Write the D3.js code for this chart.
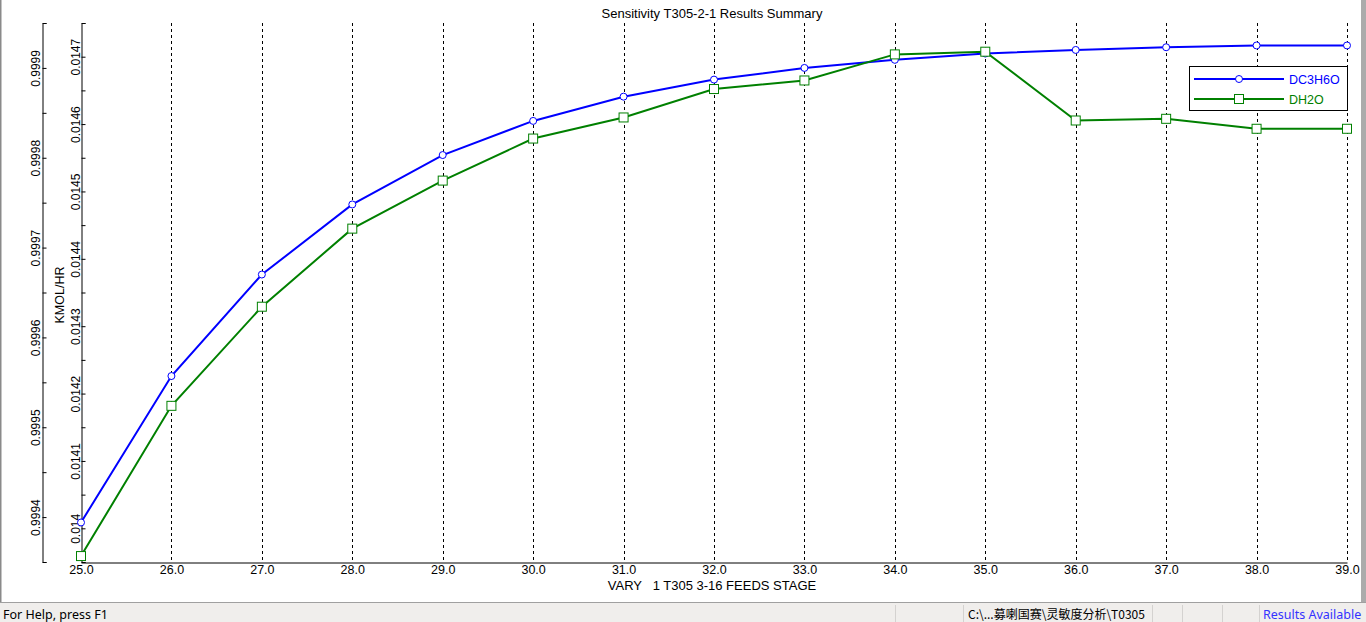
<!DOCTYPE html>
<html>
<head>
<meta charset="utf-8">
<script src="https://cdn.jsdelivr.net/npm/d3@7/dist/d3.min.js"></script>
<style>
    html, body { margin: 0; padding: 0; background: #fff; overflow: hidden; }
    svg { display: block; font-family: "Liberation Sans", Arial, sans-serif; }
</style>
</head>
<body>
<svg id="chart" width="1366" height="622"></svg>
<script>
// 横轴：进料板位置
const stages = [25, 26, 27, 28, 29, 30, 31, 32, 33, 34, 35, 36, 37, 38, 39];
// DC3H6O 结果（外侧左轴）
const dc3h6o = [0.999394, 0.999557, 0.999670, 0.999748, 0.999803, 0.999841, 0.999868,
    0.999887, 0.999900, 0.999909, 0.999916, 0.999920, 0.999923, 0.999925, 0.999925];
// DH2O 结果（内侧左轴）
const dh2o = [0.0139588, 0.0141818, 0.0143289, 0.0144448, 0.0145161, 0.0145785, 0.0146098,
    0.0146520, 0.0146647, 0.0147034, 0.0147074, 0.0146053, 0.0146078, 0.0145930, 0.0145930];
// 刻度标签
const outerTickLabels = ['0.9994', '0.9995', '0.9996', '0.9997', '0.9998', '0.9999'];
const innerTickLabels = ['0.014', '0.0141', '0.0142', '0.0143', '0.0144', '0.0145', '0.0146', '0.0147'];
// 图例名称
const seriesNames = ['DC3H6O', 'DH2O'];

const svg = d3.select('#chart');
const plot = { left: 81, right: 1347, top: 23, bottom: 562 };
const blue = '#0000ff', green = '#008000';

// 比例尺
const x = d3.scaleLinear().domain([25, 39]).range([plot.left, plot.right]);
const yOuter = d3.scaleLinear().domain([0.99935, 0.99995]).range([plot.bottom, plot.top]);
const yInner = d3.scaleLinear().domain([0.01395, 0.01475]).range([plot.bottom, plot.top]);

// 窗口边框
svg.append('rect').attr('x', 0).attr('y', 0).attr('width', 1.5).attr('height', 603).attr('fill', '#8a8a8a');
svg.append('rect').attr('x', 1361).attr('y', 0).attr('width', 5).attr('height', 603).attr('fill', '#ababab');

// 竖直虚线网格
svg.append('g').selectAll('line')
    .data(stages.slice(1))
    .join('line')
    .attr('x1', d => Math.round(x(d)) + 0.5)
    .attr('x2', d => Math.round(x(d)) + 0.5)
    .attr('y1', plot.top)
    .attr('y2', plot.bottom)
    .attr('stroke', '#000')
    .attr('stroke-width', 1)
    .attr('stroke-dasharray', '3,3');

// 左侧纵轴（刻度朝内，标签旋转）
function drawYAxis(scale, labels, xPos, labelOffset) {
    let values = labels.map(Number);
    let step = values[1] - values[0];
    // 半格次刻度
    let minor = values.map(v => v - step / 2).concat([values[values.length - 1] + step / 2]);
    let g = svg.append('g').attr('transform', `translate(${xPos + 0.5},0)`);
    g.call(d3.axisLeft(scale).tickValues(minor).tickSizeInner(-4).tickSizeOuter(-4).tickFormat(''));
    let gm = svg.append('g').attr('transform', `translate(${xPos + 0.5},0)`);
    gm.call(d3.axisLeft(scale).tickValues(values).tickSizeInner(-4).tickSizeOuter(-4)
        .tickFormat((d, i) => labels[i]));
    gm.select('.domain').remove();
    [g, gm].forEach(s => s.selectAll('line, path').attr('stroke', '#000'));
    gm.selectAll('text')
        .attr('x', 0)
        .attr('dy', null)
        .attr('y', labelOffset)
        .attr('transform', 'rotate(-90)')
        .attr('text-anchor', 'middle')
        .attr('fill', '#000')
        .style('font-size', '12px')
        .style('font-family', '"Liberation Sans", Arial, sans-serif');
}
drawYAxis(yOuter, outerTickLabels, 42, -3);
drawYAxis(yInner, innerTickLabels, 81, -2);

// 横轴
let gx = svg.append('g').attr('transform', `translate(0,${plot.bottom + 0.5})`);
gx.call(d3.axisBottom(x).tickValues(stages).tickSize(0).tickPadding(3).tickFormat(d3.format('.1f')));
gx.select('.domain').attr('stroke', '#000');
gx.selectAll('text')
    .attr('fill', '#000')
    .style('font-size', '12.5px')
    .style('font-family', '"Liberation Sans", Arial, sans-serif');

// 标题与轴标题
svg.append('text').attr('x', 712).attr('y', 18).attr('text-anchor', 'middle')
    .style('font-size', '13px').text('Sensitivity T305-2-1 Results Summary');
svg.append('text').attr('x', 712).attr('y', 590).attr('text-anchor', 'middle')
    .style('font-size', '13px').style('white-space', 'pre').text('VARY   1 T305 3-16 FEEDS STAGE');
svg.append('text').attr('transform', 'translate(64,295) rotate(-90)').attr('text-anchor', 'middle')
    .style('font-size', '12.5px').text('KMOL/HR');

// 折线
const series = [
    { name: seriesNames[0], values: dc3h6o, y: yOuter, color: blue, marker: 'circle' },
    { name: seriesNames[1], values: dh2o, y: yInner, color: green, marker: 'square' }
];

function drawMarker(g, type, cx, cy, color) {
    if (type === 'circle') {
        g.append('circle').attr('cx', cx).attr('cy', cy).attr('r', 3.5)
            .attr('fill', '#fff').attr('stroke', color).attr('stroke-width', 1);
    } else {
        g.append('rect').attr('x', cx - 4.5).attr('y', cy - 4.5).attr('width', 9).attr('height', 9)
            .attr('fill', '#fff').attr('stroke', color).attr('stroke-width', 1);
    }
}

series.forEach(s => {
    let line = d3.line().x(d => x(d[0])).y(d => s.y(d[1]));
    let pts = stages.map((st, i) => [st, s.values[i]]);
    svg.append('path').datum(pts)
        .attr('d', line)
        .attr('fill', 'none')
        .attr('stroke', s.color)
        .attr('stroke-width', 2);
    let gm = svg.append('g');
    pts.forEach(p => drawMarker(gm, s.marker, x(p[0]), s.y(p[1]), s.color));
});

// 图例
let lg = svg.append('g');
lg.append('rect').attr('x', 1189.5).attr('y', 66.5).attr('width', 158).attr('height', 44)
    .attr('fill', '#fff').attr('stroke', '#000').attr('stroke-width', 1);
series.forEach((s, i) => {
    let cy = 79 + i * 20;
    lg.append('line').attr('x1', 1194).attr('x2', 1284).attr('y1', cy).attr('y2', cy)
        .attr('stroke', s.color).attr('stroke-width', 2);
    drawMarker(lg, s.marker, 1239, cy, s.color);
    lg.append('text').attr('x', 1289).attr('y', cy + 4.5)
        .attr('fill', s.color).style('font-size', '12.5px').text(s.name);
});

// 状态栏
let sb = svg.append('g').style('font-family', '"Noto Sans", "Noto Sans CJK SC", sans-serif');
sb.append('rect').attr('x', 0).attr('y', 603).attr('width', 1366).attr('height', 19).attr('fill', '#f0eeec');
sb.append('line').attr('x1', 0).attr('x2', 1366).attr('y1', 602.5).attr('y2', 602.5).attr('stroke', '#a0a0a0');
[895, 963, 1152, 1182, 1222, 1259].forEach(px => {
    sb.append('line').attr('x1', px + 0.5).attr('x2', px + 0.5).attr('y1', 605).attr('y2', 622)
        .attr('stroke', '#d4d2d0');
});
sb.append('text').attr('x', 3).attr('y', 619).style('font-size', '12.5px').attr('fill', '#000')
    .text('For Help, press F1');
sb.append('text').attr('x', 968).attr('y', 619).style('font-size', '12px').attr('fill', '#000')
    .style('font-family', '"Noto Sans CJK SC", "Noto Sans", sans-serif')
    .text('C:\\...募喇国赛\\灵敏度分析\\T0305');
sb.append('text').attr('x', 1263).attr('y', 619).style('font-size', '12.5px').attr('fill', '#3333ff')
    .text('Results Available');
</script>
</body>
</html>
